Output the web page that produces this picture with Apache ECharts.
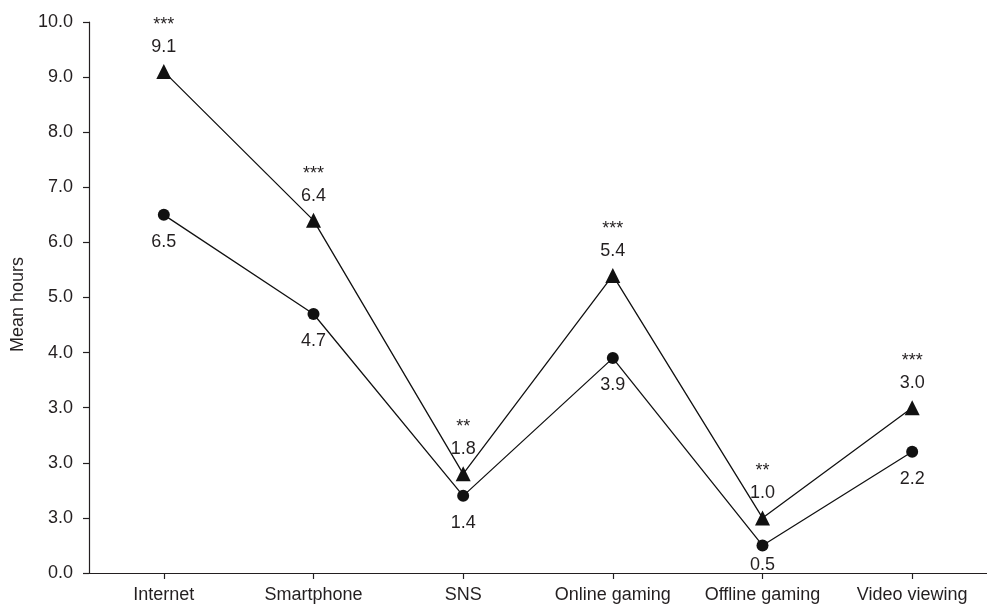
<!DOCTYPE html>
<html>
<head>
<meta charset="utf-8">
<script src="https://cdn.jsdelivr.net/npm/echarts@6/dist/echarts.min.js"></script>
<style>
html,body{margin:0;padding:0;background:#fff;}
#chart{width:987px;height:606px;}
</style>
</head>
<body>
<div id="chart"></div>
<script>
// Categories
var categories = ['Internet', 'Smartphone', 'SNS', 'Online gaming', 'Offline gaming', 'Video viewing'];
// Group with triangle markers (upper line)
var triangleValues = [9.1, 6.4, 1.8, 5.4, 1.0, 3.0];
var triangleLabels = ['9.1', '6.4', '1.8', '5.4', '1.0', '3.0'];
var significance = ['***', '***', '**', '***', '**', '***'];
// Group with circle markers (lower line)
var circleValues = [6.5, 4.7, 1.4, 3.9, 0.5, 2.2];
var circleLabels = ['6.5', '4.7', '1.4', '3.9', '0.5', '2.2'];
// Y tick labels as printed in the figure
var yTickLabels = ['0.0', '3.0', '3.0', '3.0', '4.0', '5.0', '6.0', '7.0', '8.0', '9.0', '10.0'];

var FONT = '"Liberation Sans", Arial, Helvetica, sans-serif';
var TXT = '#231f20';

var chart = echarts.init(document.getElementById('chart'), null, {renderer: 'canvas'});

var triData = triangleValues.map(function (v, i) {
  return {
    value: v,
    label: {
      formatter: '{s|' + significance[i] + '}\n{v|' + triangleLabels[i] + '}'
    }
  };
});
var cirData = circleValues.map(function (v, i) {
  var item = { value: v, label: { formatter: circleLabels[i] } };
  if (i === 4) { item.label.distance = 5; }
  return item;
});

chart.setOption({
  animation: false,
  backgroundColor: '#ffffff',
  grid: { left: 89, top: 22, bottom: 33, right: -6, containLabel: false },
  xAxis: {
    type: 'category',
    data: categories,
    boundaryGap: true,
    axisLine: { show: true, lineStyle: { color: TXT, width: 1.2 } },
    axisTick: { show: true, alignWithLabel: true, length: 6, lineStyle: { color: TXT, width: 1.2 } },
    axisLabel: { color: TXT, fontSize: 18, fontFamily: FONT, margin: 13, interval: 0 },
    splitLine: { show: false }
  },
  yAxis: {
    type: 'value',
    min: 0, max: 10, interval: 1,
    name: 'Mean hours',
    nameLocation: 'middle',
    nameGap: 38,
    nameTextStyle: { color: TXT, fontSize: 18, fontFamily: FONT, padding: [0, 14, 0, 0] },
    axisLine: { show: true, lineStyle: { color: TXT, width: 1.2 } },
    axisTick: { show: true, length: 6, lineStyle: { color: TXT, width: 1.2 } },
    axisLabel: {
      color: TXT, fontSize: 18, fontFamily: FONT, margin: 16,
      formatter: function (v) { return yTickLabels[Math.round(v)]; }
    },
    splitLine: { show: false }
  },
  series: [
    {
      type: 'line',
      data: triData,
      symbol: 'triangle',
      symbolSize: 15,
      itemStyle: { color: '#111' },
      lineStyle: { color: '#111', width: 1.3 },
      label: {
        show: true,
        position: 'top',
        distance: 6,
        color: TXT,
        fontFamily: FONT,
        rich: {
          s: { fontSize: 18, lineHeight: 22, color: TXT, fontFamily: FONT },
          v: { fontSize: 18, lineHeight: 22, color: TXT, fontFamily: FONT }
        }
      },
      z: 3
    },
    {
      type: 'line',
      data: cirData,
      symbol: 'circle',
      symbolSize: 12,
      itemStyle: { color: '#111' },
      lineStyle: { color: '#111', width: 1.3 },
      label: {
        show: true,
        position: 'bottom',
        distance: 12,
        color: TXT,
        fontSize: 18,
        fontFamily: FONT
      },
      z: 3
    }
  ]
});
</script>
</body>
</html>
